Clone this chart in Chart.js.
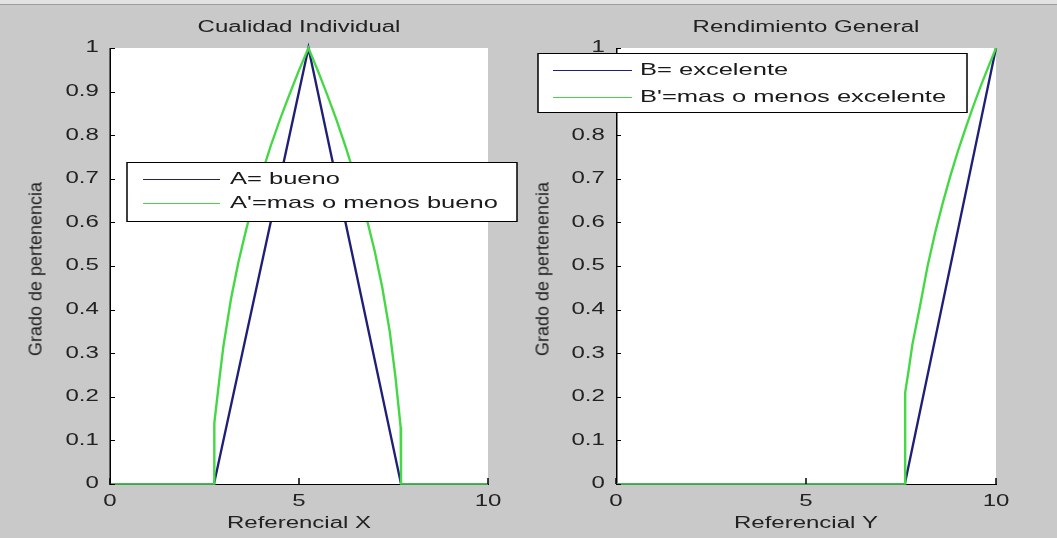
<!DOCTYPE html>
<html>
<head>
<meta charset="utf-8">
<script src="https://cdn.jsdelivr.net/npm/chart.js@4"></script>
<style>
  html, body { margin: 0; padding: 0; }
  body {
    width: 1057px; height: 538px; position: relative; overflow: hidden;
    background: #c9c9c9; font-family: "Liberation Sans", Arial, sans-serif;
  }
  .frame-top { position: absolute; left: 0; top: 0; width: 1057px; height: 4px; background: #e2e2e2; border-bottom: 1px solid #9c9c9c; }
  canvas { position: absolute; top: 0; }
  .ylab {
    position: absolute; top: 269px; font-size: 18px; color: #222; white-space: nowrap;
    transform: translate(-50%, -50%) rotate(-90deg);
  }
</style>
</head>
<body>
<div class="frame-top"></div>
<canvas id="chart-a" width="352" height="538" style="left:0px;width:528px;height:538px"></canvas>
<canvas id="chart-b" width="352" height="538" style="left:529px;width:528px;height:538px"></canvas>
<div class="ylab" style="left:36px">Grado de pertenencia</div>
<div class="ylab" style="left:543px">Grado de pertenencia</div>
<script>
// the source screenshot is stretched sideways: text and strokes are ~1.5x wider than tall
const SX = 1.5;

const xTicks = [0, 5, 10];
const yTicks = [0, 0.1, 0.2, 0.3, 0.4, 0.5, 0.6, 0.7, 0.8, 0.9, 1];
const yTickLabels = ['0', '0.1', '0.2', '0.3', '0.4', '0.5', '0.6', '0.7', '0.8', '0.9', '1'];

// Cualidad Individual
const aX = [0, 2.75, 5.25, 7.7, 10];
const aY = [0, 0, 1, 0, 0];
const apX = [0, 2.75, 2.76, 2.9, 3.0, 3.2, 3.4, 3.6, 3.8, 4.0, 4.25, 4.5, 4.75, 5.0, 5.25,
             5.5, 5.75, 6.0, 6.25, 6.5, 6.75, 7.0, 7.2, 7.4, 7.55, 7.69, 7.7, 10];
const apY = [0, 0, 0.14, 0.245, 0.316, 0.424, 0.51, 0.583, 0.648, 0.707, 0.775, 0.837, 0.894, 0.949, 1,
             0.948, 0.892, 0.833, 0.769, 0.70, 0.623, 0.535, 0.452, 0.35, 0.247, 0.13, 0, 0];

// Rendimiento General
const bX = [0, 7.6, 10];
const bY = [0, 0, 1];
const bpX = [0, 7.6, 7.61, 7.7, 7.8, 8.0, 8.2, 8.4, 8.6, 8.8, 9.0, 9.2, 9.4, 9.6, 9.8, 10];
const bpY = [0, 0, 0.21, 0.26, 0.32, 0.408, 0.5, 0.577, 0.645, 0.707, 0.764, 0.816, 0.866, 0.913, 0.957, 1];

const BLUE = '#1f1f78';
const GREEN = '#44d944';

Chart.defaults.font.family = '"Liberation Sans", Arial, sans-serif';
Chart.defaults.font.size = 16;
Chart.defaults.color = '#222';

const toPoints = (xs, ys) => xs.map((x, i) => ({ x: x, y: ys[i] }));

// MATLAB style: ticks pointing into the plot
function drawInwardTicks(chart) {
  const { ctx, chartArea: a, scales: { x, y } } = chart;
  ctx.save();
  ctx.strokeStyle = '#000';
  ctx.lineWidth = 1;
  ctx.beginPath();
  y.ticks.forEach(t => {
    const py = Math.round(y.getPixelForValue(t.value)) + 0.5;
    ctx.moveTo(a.left, py);
    ctx.lineTo(a.left + 5 / SX, py);
  });
  x.ticks.forEach(t => {
    const px = x.getPixelForValue(t.value);
    ctx.moveTo(px, a.bottom);
    ctx.lineTo(px, a.bottom - 6);
  });
  ctx.stroke();
  ctx.restore();
}

// boxed legend sitting inside the axes (coords are screen px relative to the canvas)
function drawLegendBox(chart, box) {
  const ctx = chart.ctx;
  ctx.save();
  ctx.fillStyle = '#fff';
  ctx.fillRect(box.x / SX, box.y, box.w / SX, box.h);
  ctx.strokeStyle = '#000';
  ctx.lineWidth = 1;
  ctx.strokeRect(box.x / SX, box.y + 0.5, box.w / SX, box.h);
  ctx.font = '17px "Liberation Sans", Arial, sans-serif';
  ctx.textBaseline = 'middle';
  chart.data.datasets.forEach((ds, i) => {
    const ry = Math.round(box.rows[i]) + 0.5;
    ctx.strokeStyle = ds.borderColor;
    ctx.lineWidth = 1.2;
    ctx.beginPath();
    ctx.moveTo(box.line0 / SX, ry);
    ctx.lineTo(box.line1 / SX, ry);
    ctx.stroke();
    ctx.fillStyle = '#1a1a1a';
    ctx.fillText(ds.label, box.text / SX, ry);
  });
  ctx.restore();
}

const stretchPlugin = {
  id: 'stretch',
  beforeDraw(chart) {
    const ctx = chart.ctx;
    const a = chart.chartArea;
    ctx.save();
    ctx.setTransform(SX, 0, 0, 1, 0, 0);
    // white axes background
    ctx.fillStyle = '#fff';
    ctx.fillRect(a.left, a.top, a.right - a.left, a.bottom - a.top);
  },
  afterDraw(chart, args, opts) {
    drawInwardTicks(chart);
    drawLegendBox(chart, opts.legend);
    chart.ctx.restore();
  }
};

function makePanel(id, cfg) {
  const canvas = document.getElementById(id);
  const chart = new Chart(canvas, {
    type: 'scatter',
    data: {
      datasets: [
        {
          label: cfg.labels[0],
          data: toPoints(cfg.s1x, cfg.s1y),
          borderColor: BLUE,
          order: 1
        },
        {
          label: cfg.labels[1],
          data: toPoints(cfg.s2x, cfg.s2y),
          borderColor: GREEN,
          order: 0
        }
      ]
    },
    options: {
      responsive: false,
      animation: false,
      events: [],
      datasets: {
        scatter: { showLine: true, pointRadius: 0, borderWidth: 1.6, tension: 0, clip: false }
      },
      layout: { padding: { left: 0, right: cfg.padRight, top: 0, bottom: 0 } },
      scales: {
        x: {
          type: 'linear',
          min: 0, max: 10,
          afterBuildTicks: s => { s.ticks = xTicks.map(v => ({ value: v })); },
          afterFit: s => { s.height = 54; },
          grid: { display: false, drawTicks: false },
          border: { display: true, color: '#000', width: 1 },
          ticks: { padding: 8, color: '#222', maxRotation: 0 },
          title: { display: true, text: cfg.xTitle, color: '#222', padding: { top: 0, bottom: 5 } }
        },
        y: {
          type: 'linear',
          min: 0, max: 1,
          afterBuildTicks: s => { s.ticks = yTicks.map(v => ({ value: v })); },
          afterFit: s => { s.width = cfg.areaLeft; },
          grid: { display: false, drawTicks: false },
          border: { display: true, color: '#000', width: 1 },
          ticks: {
            padding: 7.5,
            color: '#222',
            callback: (v, i) => yTickLabels[i]
          }
        }
      },
      plugins: {
        legend: { display: false },
        tooltip: { enabled: false },
        title: {
          display: true,
          text: cfg.title,
          fullSize: false,
          color: '#222',
          font: { size: 16, weight: 'normal' },
          padding: { top: 18, bottom: 10.8 }
        },
        stretch: { legend: cfg.legend }
      }
    },
    plugins: [stretchPlugin]
  });
  // widen the backing store so the stretched drawing stays sharp
  canvas.width = Math.round(chart.width * SX);
  chart.draw();
  return chart;
}

makePanel('chart-a', {
  title: 'Cualidad Individual',
  xTitle: 'Referencial X',
  labels: ['A= bueno', "A'=mas o menos bueno"],
  s1x: aX, s1y: aY, s2x: apX, s2y: apY,
  areaLeft: 110 / SX,
  padRight: 352 - 488 / SX,
  legend: { x: 127, y: 162, w: 390, h: 59, rows: [179, 203], line0: 143, line1: 220, text: 230 }
});

makePanel('chart-b', {
  title: 'Rendimiento General',
  xTitle: 'Referencial Y',
  labels: ['B= excelente', "B'=mas o menos excelente"],
  s1x: bX, s1y: bY, s2x: bpX, s2y: bpY,
  areaLeft: 87 / SX,
  padRight: 352 - 467 / SX,
  legend: { x: 9, y: 53, w: 429, h: 59, rows: [70, 97], line0: 24, line1: 103, text: 111 }
});
</script>
</body>
</html>
